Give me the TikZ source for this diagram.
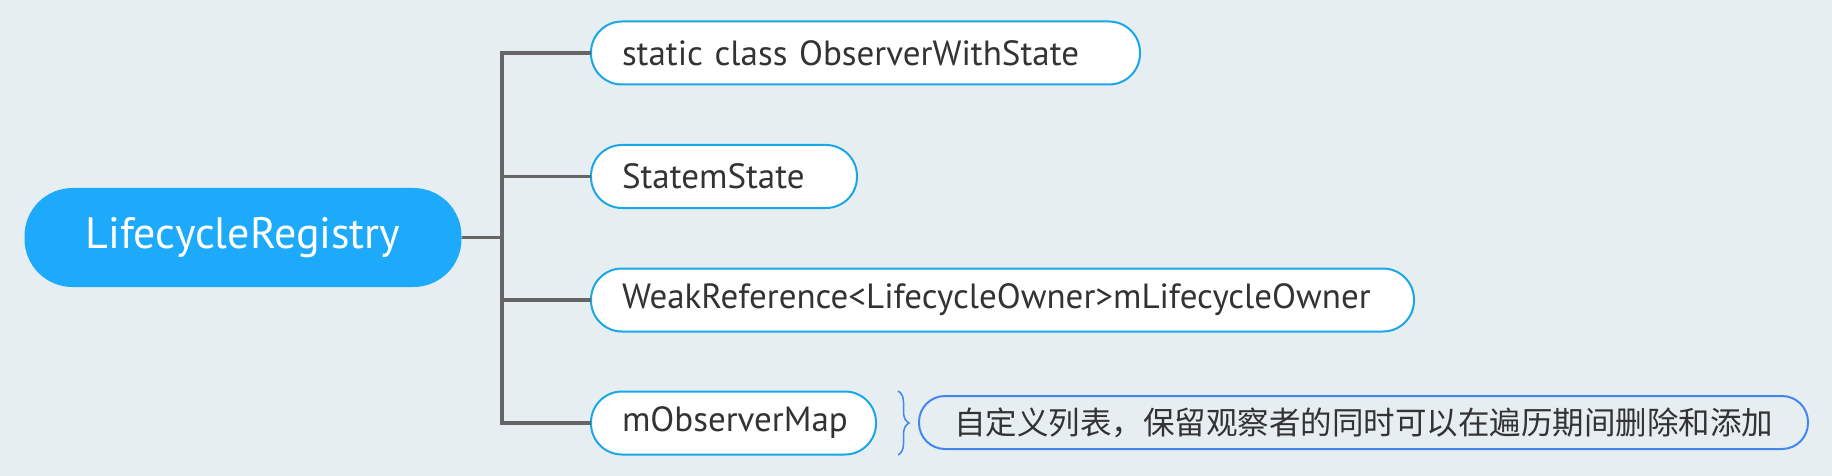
\documentclass[tikz,border=0pt]{standalone}
\usepackage{fontspec}
\setmainfont{PT Sans}
\newfontfamily\cjk{Noto Sans CJK SC}
\usepackage{tikz}
\usetikzlibrary{decorations.pathreplacing}
\definecolor{bgcol}{HTML}{E6EEF2}
\definecolor{rootblue}{HTML}{1EAAFB}
\definecolor{leafline}{HTML}{1AA7E8}
\definecolor{trunkgray}{HTML}{666666}
\definecolor{notecol}{HTML}{4286EE}
\definecolor{txtcol}{HTML}{333333}

\begin{document}
\begin{tikzpicture}[x=1pt, y=-1pt]

\tikzstyle{every node} = [inner sep=0pt, outer sep=0pt]
\tikzstyle{leaf} = [draw=leafline, line width=2pt, fill=white, rounded corners=31pt,
  minimum height=63pt, anchor=west, align=left, inner xsep=31pt, text=txtcol,
  font=\fontsize{35}{40}\selectfont]
\tikzstyle{trunk} = [draw=trunkgray, line width=3.5pt]

\fill[bgcol] (0,0) rectangle (1832,476);

\node (reg) at (243,237.5) [fill=rootblue, rounded corners=48pt, minimum width=437pt,
  minimum height=99pt, text=white, font=\fontsize{44}{50}\selectfont] {LifecycleRegistry};

\node (ows) at (591,53) [leaf, text width=487pt] {static class ObserverWithState};
\node (st) at (591,176.5) [leaf, text width=204pt] {StatemState};
\node (wr) at (591,300) [leaf, text width=761pt] {WeakReference<LifecycleOwner>mLifecycleOwner};
\node (om) at (591,423) [leaf, text width=223pt] {mObserverMap};

\node (memo) at (1363.5,422.5) [draw=notecol, line width=2pt, fill=bgcol, rounded corners=26pt,
  minimum width=889pt, minimum height=53pt, text=txtcol,
  font=\cjk\fontsize{31.5}{36}\selectfont] {自定义列表，保留观察者的同时可以在遍历期间删除和添加};

\coordinate (fork) at (502,237.5);
\coordinate (bt) at (898,391);
\coordinate (bb) at (898,455);

\draw[trunk] (reg.east) -- (fork);
\draw[trunk] (fork) |- (ows.west);
\draw[trunk] (fork) |- (st.west);
\draw[trunk] (fork) |- (wr.west);
\draw[trunk] (fork) |- (om.west);

\draw[notecol, line width=1.5pt, decorate, decoration={brace, amplitude=11pt}] (bt) -- (bb);
\end{tikzpicture}
\end{document}
